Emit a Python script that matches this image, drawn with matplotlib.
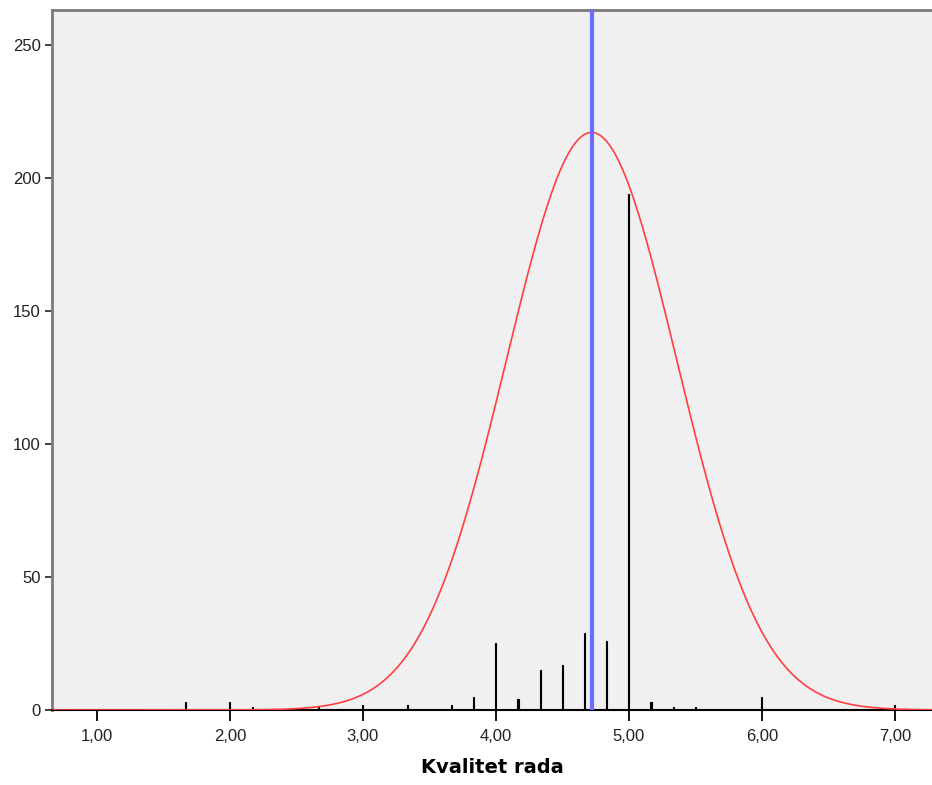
import numpy as np
import matplotlib
matplotlib.use('Agg')
from matplotlib import pyplot as plt
from matplotlib.ticker import FuncFormatter

# histogram of "Kvalitet rada" (scores in steps of 1/6)
scores = [5/3, 2.0, 13/6, 8/3, 3.0, 10/3, 11/3, 23/6, 4.0, 25/6, 13/3, 4.5,
          14/3, 29/6, 5.0, 31/6, 16/3, 5.5, 6.0, 7.0]
counts = [3, 3, 1, 1, 2, 2, 2, 5, 25, 4, 15, 17,
          29, 26, 194, 3, 1, 1, 5, 2]

# fitted normal curve
mean_val = 4.72
sd_val = 0.64
peak_val = 217

x_ticks = [1, 2, 3, 4, 5, 6, 7]
y_ticks = [0, 50, 100, 150, 200, 250]

plt.rcParams['font.family'] = ['Liberation Sans', 'DejaVu Sans']

fig = plt.figure(figsize=(9.32, 7.85), dpi=100)
ax = fig.add_axes([52/932, 1 - 710/785, 1 - 52/932, 700/785])
ax.set_facecolor('#f0f0f0')

ax.bar(scores, counts, width=0.008, color='black', edgecolor='black',
       linewidth=0.8, zorder=3)

xs = np.linspace(0.6, 7.4, 600)
ys = peak_val * np.exp(-0.5 * ((xs - mean_val) / sd_val) ** 2)
ax.plot(xs, ys, color='#ff4040', lw=1.2, zorder=4)

ax.axvline(mean_val, color='#6b6bff', lw=3, zorder=5)

ax.set_xlim(0.662, 7.28)
ax.set_ylim(0, 263)
ax.set_xticks(x_ticks)
ax.set_yticks(y_ticks)
ax.xaxis.set_major_formatter(FuncFormatter(lambda v, p: ('%.2f' % v).replace('.', ',')))
ax.tick_params(axis='x', length=8, width=1.3, color='black', labelsize=12,
               labelcolor='#222222', pad=6)
ax.tick_params(axis='y', length=5, width=1.3, color='#333333', labelsize=12,
               labelcolor='#222222', pad=3)

for side in ['left', 'top']:
    ax.spines[side].set_color('#7a7a7a')
    ax.spines[side].set_linewidth(2)
ax.spines['bottom'].set_color('black')
ax.spines['bottom'].set_linewidth(1.5)
ax.spines['right'].set_visible(False)

ax.set_xlabel('Kvalitet rada', family='DejaVu Sans', fontweight='bold', fontsize=14, labelpad=10)

fig.savefig('out.png', dpi=100)
